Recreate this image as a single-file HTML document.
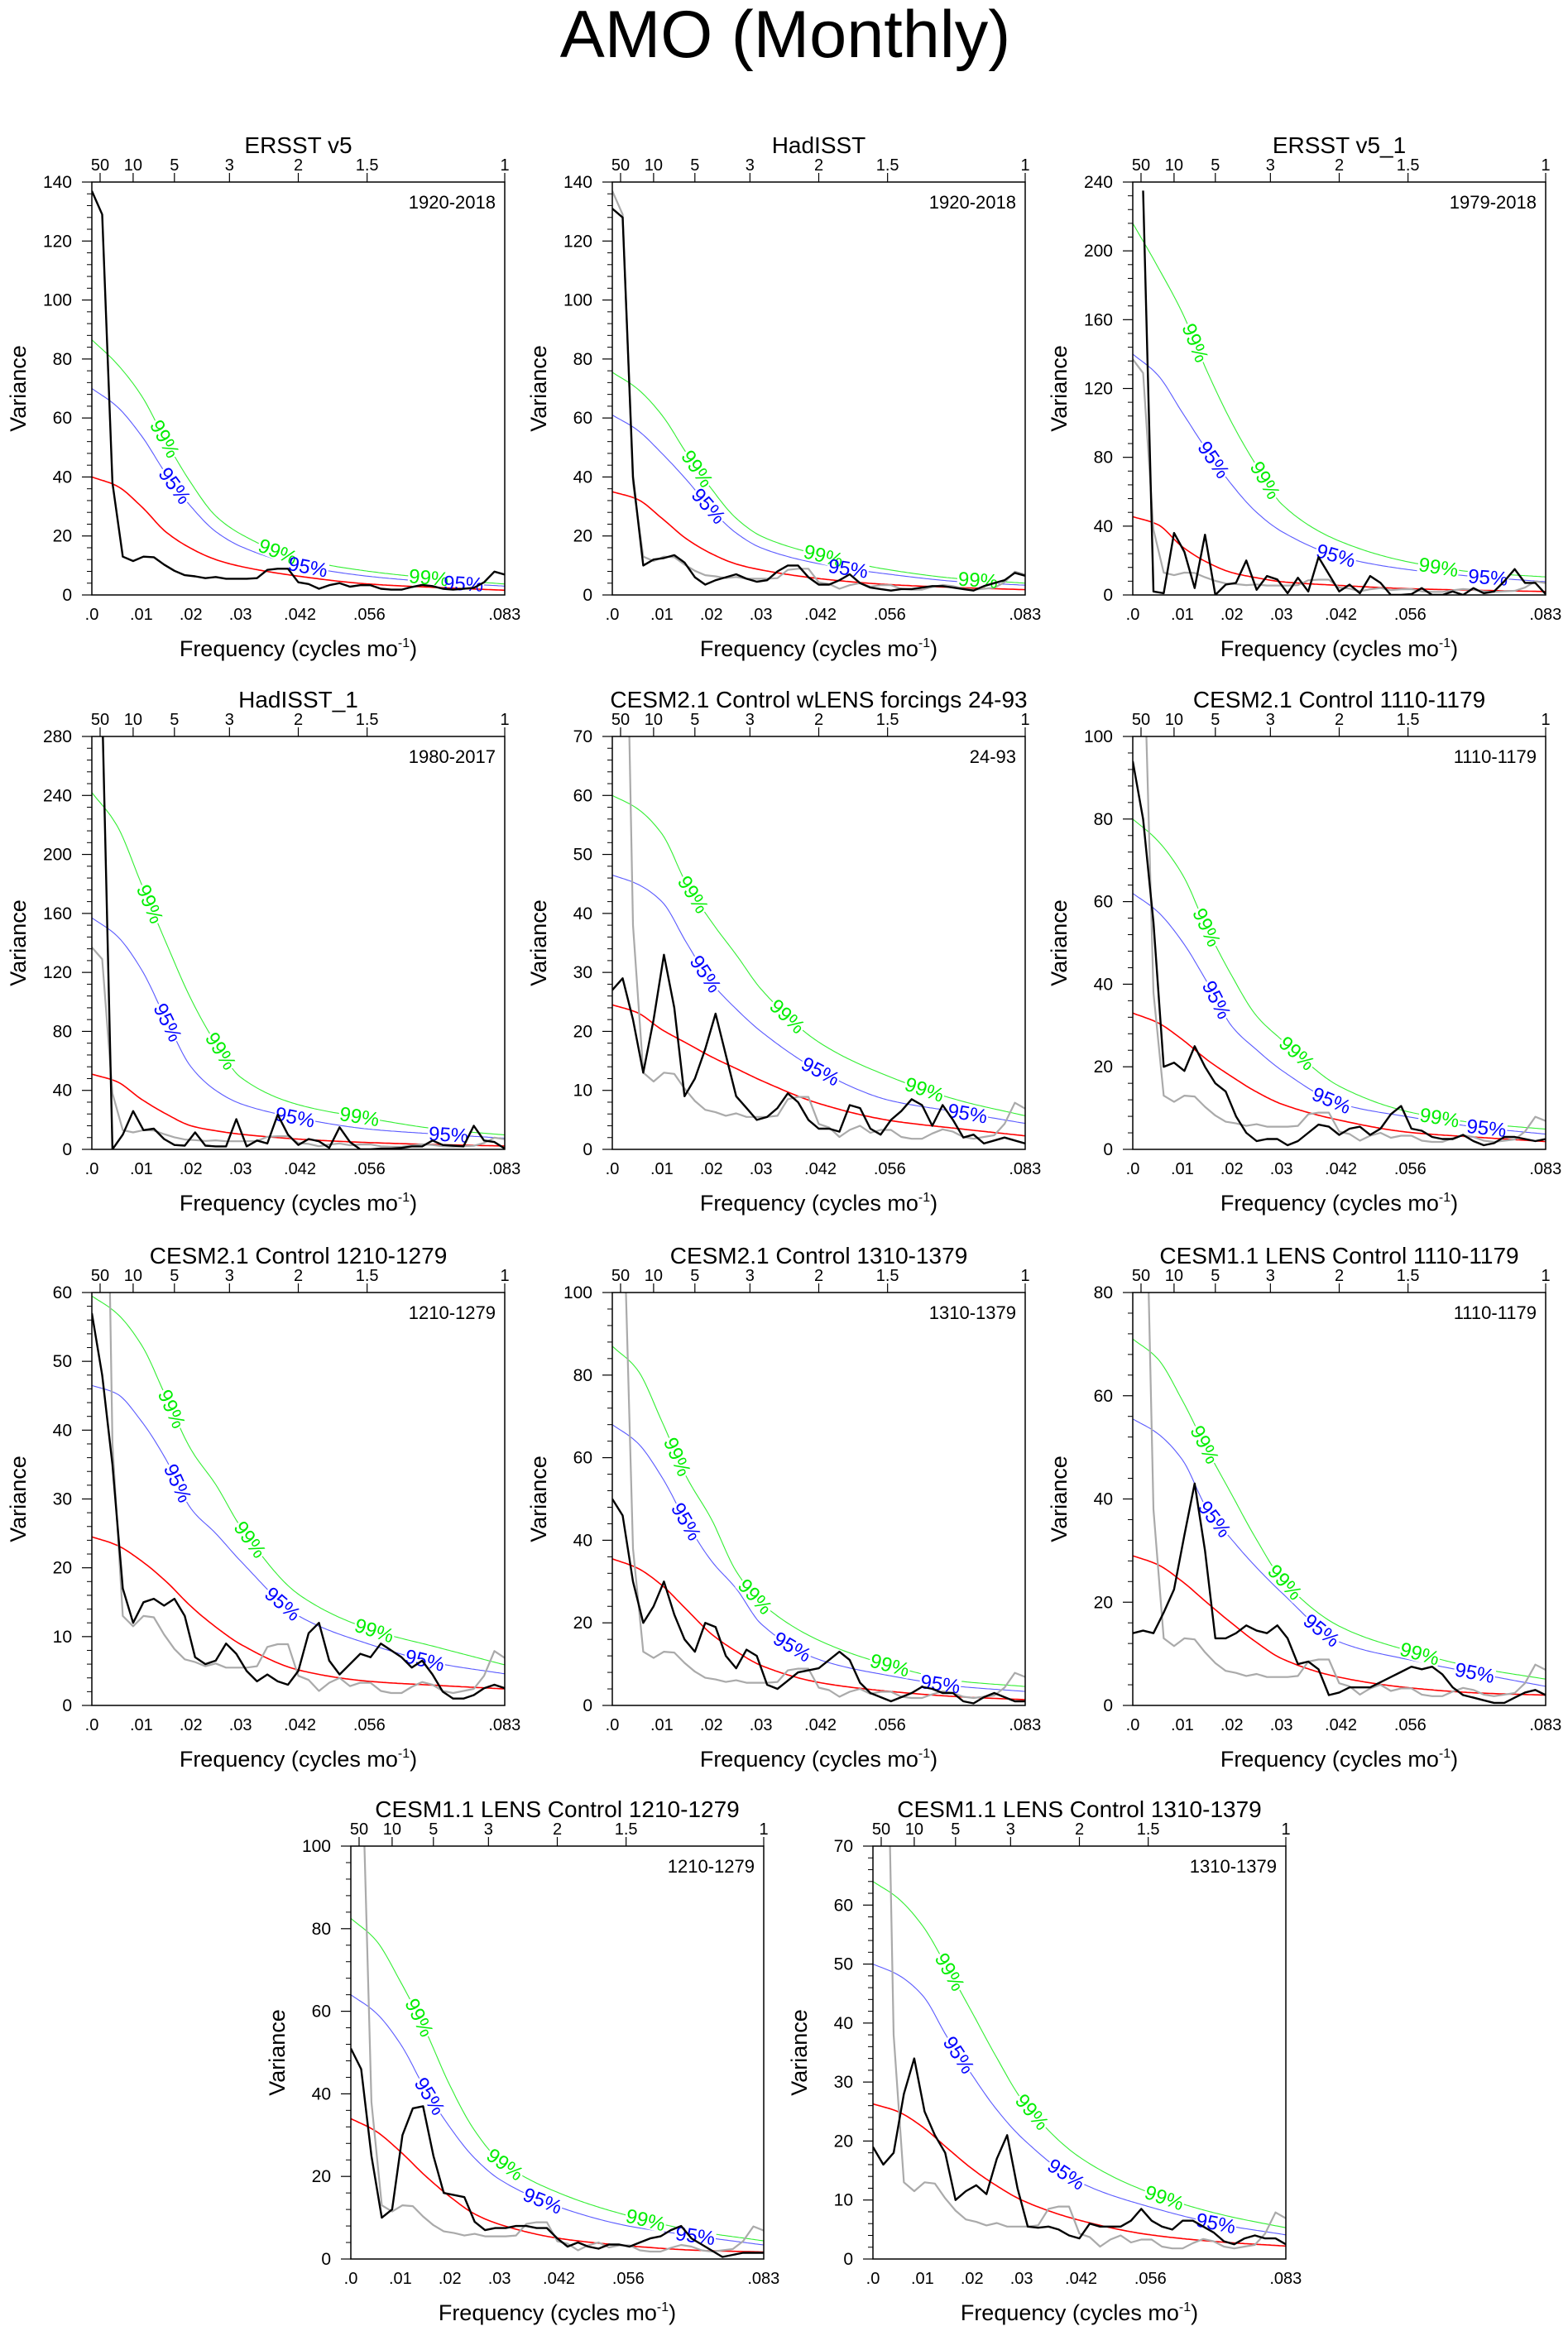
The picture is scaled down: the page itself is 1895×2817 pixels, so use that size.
<!DOCTYPE html>
<html><head><meta charset="utf-8"><title>AMO (Monthly)</title>
<style>
html,body{margin:0;padding:0;background:#fff;}
svg{display:block;font-family:"Liberation Sans",Arial,sans-serif;}
</style></head>
<body>
<svg id="chart" xmlns="http://www.w3.org/2000/svg" width="1895" height="2817" viewBox="0 0 1895 2817">
<rect x="0" y="0" width="1895" height="2817" fill="#fff"/>
<text x="949" y="69" font-size="81" text-anchor="middle" fill="#000">AMO (Monthly)</text>
</svg>
<script>
// ---- data ----
const curveFreqs = [0,.005,.01,.015,.02,.025,.03,.042,.056,.07,.0833];
const xTickVals = [0,.01,.02,.03,.042,.056,.0833];
const xTickLabels = [".0",".01",".02",".03",".042",".056",".083"];
const periodVals = [50,10,5,3,2,1.5,1];
const periodLabels = ["50","10","5","3","2","1.5","1"];

const p1Black = [137,129,38,13,11.5,13,12.8,10.3,8.2,6.7,6.3,5.7,6.1,5.5,5.5,5.5,5.7,8.5,8.9,8.9,4.3,3.7,2.1,3.3,4,2.8,3.3,3.3,2.1,1.8,1.8,2.7,3.4,3,2.1,1.8,2.1,2.4,4.3,7.9,6.9];
const p2Black = [131,128,40,10,12,12.5,13.5,11,6,3.5,5,6,7,5.5,4.5,5,8,10,10,6,3.5,3.5,5,7,4,2.5,2,1.5,2,2,2.5,3,3,2.5,2,1.5,3,4,5,7.5,6.5];
const p3Black = [null,235,2,1,36,25,4,35,0,6,7,20,3,11,9,1,10,2,22,12,2,6,1,11,7,0,0,0.5,4,0,0,2,0,4,1,2,8,15,7,7,0.5];
const p4Black = [null,300,0,10,26,13,14,7,3,2.5,11.5,2.5,2,2,20.5,2,6,4,23.5,10,3,7,5.5,1,15,5,0,0,0.5,0.5,1,2,2,6,3,2.5,2,16,6,5,0.5];
const p5Black = [27,29,22,13,22,33,24,9,12,17,23,16,9,7,5,5.5,7,9.5,8,5,3.5,3.5,3,7.5,7,3.5,2.5,5,6.5,8.5,7.5,4,7.5,5,2,2.5,1,1.5,2,1.5,1];
const p6Black = [94,80,55,20,21,19,25,20,16,14,8,4,2,2.5,2.5,1,2,4,6,5.5,3.5,5,5.5,3.5,5,8.5,10.5,5,4.5,3,2.5,2.5,3.5,2,1,1.5,3,3,2.5,2,2.5];
const p7Black = [57,48,35,17,12,15,15.5,14.5,15.5,13,7,6,6.5,9,7.5,5,3.5,4.5,3.5,3,5,10.5,12,6.5,4.5,6,7.5,7,9,8,7,5.5,6.5,4.5,2,1,1,1.5,2.5,3,2.5];
const p8Black = [50,46,30,20,24,30,22,16,13,20,19,12,9,13.5,12,5,4,6,8,8.5,9,11,13,11,5.5,3,2,1,2,3,4.5,4,3,3,1,0.5,2,3,2,1,1];
const p9Black = [14,14.5,14,18,22.5,33,43,30,13,13,14,15.5,14.5,14,15.5,13,8,8.5,7,2,2.5,3.5,3.5,3.5,4.5,5.5,6.5,7.5,7,7.5,6,3.5,2,1.5,1,0.5,0.5,1.5,2.5,3,2];
const p10Black = [51,46,25,10,12,30,36.5,37,25,16,15.5,15,9,7,7.5,7.5,8,8,7.5,7.5,5,3,4,3,2.5,3.5,3.5,3,4,5,5.5,7,8,5,3.5,2,0.5,1,1.5,1.5,1.5];
const p11Black = [19,16,18,28,34,25,21,18,10,11.5,12.5,11,17,21,12,5.5,5.3,5.5,5,4,3.5,6,5.5,5.5,5.5,6.5,8.5,6.5,5.5,5,6.5,6.5,5.5,4.5,3,2.5,3.5,4,3.5,3.5,2.5];
const greyRef = p1Black;

const p1Red = [40,37,30,21.3,15.8,12,9.7,6.3,3.7,2.5,1.6];
const p1C95 = [70,64,54,41,30,21.5,16.5,10,6.3,4.3,3];
const p1C99 = [86.5,78.5,67.6,52,38,26.8,20.7,12.2,8,5.5,3.7];
const p2Red = [35,32.5,26,19,14,10.5,8.5,5.5,3.5,2.5,1.8];
const p2C95 = [61,56,48,39,29,21,16,10.5,7,4.5,3.3];
const p2C99 = [75.5,70,61,48,36,26,20,13.5,8.5,5.5,4];
const p3Red = [45.5,41,28,19,13,10,7.7,5.5,3.6,2.7,2];
const p3C95 = [140,128,106,84,64,48,37,22,14.6,10.5,7.7];
const p3C99 = [216,191,164,130,100,75,53,31,19,13,10.5];
const p4Red = [51,46,34,24,16,12.6,10.3,6.9,4.6,3.2,2.3];
const p4C95 = [157,145,122,88,56,40,31,21,13.7,10.3,7.6];
const p4C99 = [242,220,180,140,102,72,49,30,21,13.7,9.8];
const p5Red = [24.5,23.2,20.3,18,15.7,13.7,11.7,7.7,4.9,3.5,2.3];
const p5C95 = [46.5,45,42,35,28.3,23.8,20,13.2,8.3,6.3,4.4];
const p5C99 = [60,57.8,53.5,45,38.6,33,27.2,18,12.3,8.3,5.7];
const p6Red = [33,30.7,26.6,21.7,17.6,13.9,11,7,4.1,2.9,1.9];
const p6C95 = [62,57.6,50.3,40.5,29.8,24.1,19.2,11,7.8,5.3,3.7];
const p6C99 = [80,74.8,66.6,53.5,42,32.3,26.6,15.1,9,6.3,4.9];
const p7Red = [24.5,23.3,21,18,14.4,11.4,8.9,5.1,3.5,2.9,2.4];
const p7C95 = [46.5,45.3,41.3,35.7,28.6,25,21,12.9,8.9,6.1,4.6];
const p7C99 = [59.5,57,52.4,44.8,37.2,32.1,26,16,11.1,8.4,5.9];
const p8Red = [35.5,33.3,29.1,23.2,17.3,13.1,9.7,5.5,3.4,2.1,1.4];
const p8C95 = [68,63.7,55.3,44.3,35,28.3,19.8,11,7.2,4.6,3.4];
const p8C99 = [87,81.4,68.8,55.3,45.1,32.5,24.9,15.6,9.7,5.9,4.6];
const p9Red = [29,27.3,24,19.9,15.9,12.2,9.1,5.4,3.4,2.4,2];
const p9C95 = [55.5,52.7,47.6,38.1,32.1,26.7,21.9,12.2,8.8,6.1,3.7];
const p9C99 = [71,67.2,59.1,49.6,40.8,32.1,24.6,15.2,10.5,7.2,5.1];
const p10Red = [34,31,26,20.2,15.1,10.9,8.4,5,3.2,2.1,1.7];
const p10C95 = [64,59.7,52.1,41.2,31.9,24.4,19.3,12.6,8,5.5,3.4];
const p10C99 = [82.5,77.3,67.2,55.5,42,31.1,23.9,16,10.5,6.7,4.4];
const p11Red = [26.3,25,22.4,18.8,15.3,12.4,10,6.5,4.1,2.9,2.2];
const p11C95 = [50,48.2,44.7,37.6,31.2,25.3,20.6,12.9,8.8,5.9,4.1];
const p11C99 = [64,61.2,56.5,49.4,41.8,34.1,27.1,17.1,11.2,7.6,5.3];

const panelTitles = ["ERSST v5","HadISST","ERSST v5_1","HadISST_1","CESM2.1 Control wLENS forcings 24-93","CESM2.1 Control 1110-1179","CESM2.1 Control 1210-1279","CESM2.1 Control 1310-1379","CESM1.1 LENS Control 1110-1179","CESM1.1 LENS Control 1210-1279","CESM1.1 LENS Control 1310-1379"];
const panelYears = ["1920-2018","1920-2018","1979-2018","1980-2017","24-93","1110-1179","1210-1279","1310-1379","1110-1179","1210-1279","1310-1379"];
const panelYMax = [140,140,240,280,70,100,60,100,80,100,70];
const panelYStep = [20,20,40,40,10,20,10,20,20,20,10];
const panelBlack = [p1Black,p2Black,p3Black,p4Black,p5Black,p6Black,p7Black,p8Black,p9Black,p10Black,p11Black];
const panelRed = [p1Red,p2Red,p3Red,p4Red,p5Red,p6Red,p7Red,p8Red,p9Red,p10Red,p11Red];
const panelC95 = [p1C95,p2C95,p3C95,p4C95,p5C95,p6C95,p7C95,p8C95,p9C95,p10C95,p11C95];
const panelC99 = [p1C99,p2C99,p3C99,p4C99,p5C99,p6C99,p7C99,p8C99,p9C99,p10C99,p11C99];
const label99Freqs = [[.0147,.0375,.068],[.0171,.0426,.0738],[.0126,.0267,.0617],[.0117,.026,.054],[.0163,.0353,.063],[.0149,.0331,.0619],[.0161,.0319,.057],[.0131,.0288,.056],[.0145,.0307,.0579],[.0138,.0311,.0595],[.0155,.0321,.0588]];
const label95Freqs = [[.0167,.0436,.075],[.0194,.0476],[.0163,.041,.0717],[.0153,.041,.072],[.0188,.042,.0717],[.0169,.0401,.0714],[.0173,.0385,.0672],[.0149,.0363,.0662],[.0165,.0381,.069],[.0159,.0387,.0695],[.0173,.039,.0692]];

// ---- layout (not data) ----
const panelPos = [[111,220],[740,220],[1369,220],[111,890],[740,890],[1369,890],[111,1562],[740,1562],[1369,1562],[424,2231],[1055,2231]];
const PW = 499, PH = 499, FMAX = 1/12, NGRID = 40;

const NS = 'http://www.w3.org/2000/svg';
const svg = document.getElementById('chart');
function mk(tag, attrs, parent){
  const e = document.createElementNS(NS, tag);
  for (const k in attrs) e.setAttribute(k, attrs[k]);
  (parent || svg).appendChild(e);
  return e;
}
// monotone cubic (Fritsch-Carlson) interpolation
function monoInterp(X, Y){
  const n = X.length, d = [], m = new Array(n);
  for (let i = 0; i < n-1; i++) d.push((Y[i+1]-Y[i])/(X[i+1]-X[i]));
  m[0] = d[0]; m[n-1] = d[n-2];
  for (let i = 1; i < n-1; i++){
    if (d[i-1]*d[i] <= 0) m[i] = 0;
    else { const h0 = X[i]-X[i-1], h1 = X[i+1]-X[i]; const w1 = 2*h1+h0, w2 = h1+2*h0; m[i] = (w1+w2)/(w1/d[i-1]+w2/d[i]); }
  }
  return function(x){
    if (x <= X[0]) return Y[0];
    if (x >= X[n-1]) return Y[n-1];
    let i = 0; while (x > X[i+1]) i++;
    const h = X[i+1]-X[i], t = (x-X[i])/h;
    const h00 = 2*t*t*t-3*t*t+1, h10 = t*t*t-2*t*t+t, h01 = -2*t*t*t+3*t*t, h11 = t*t*t-t*t;
    return h00*Y[i]+h10*h*m[i]+h01*Y[i+1]+h11*h*m[i+1];
  };
}

const defs = mk('defs', {});



panelTitles.forEach((title, p) => {
  const L = panelPos[p][0], T = panelPos[p][1];
  const ymax = panelYMax[p], ystep = panelYStep[p];
  const xs = f => L + f / FMAX * PW;
  const ys = v => T + PH - v / ymax * PH;

  const g = mk('g', {});
  
  

  const cp = mk('clipPath', {id: 'clip' + p}, defs);
  
  
  const cr = mk('rect', {x: L, y: T, width: PW, height: PH}, cp);
  
  

  const tt = mk('text', {x: L + PW/2, y: T - 35, 'font-size': 28, 'text-anchor': 'middle'}, g);
  tt.textContent = title;
  
  
  const yr = mk('text', {x: L + PW - 11, y: T + 32, 'font-size': 22, 'text-anchor': 'end'}, g);
  yr.textContent = panelYears[p];
  
  

  for (let v = 0; v <= ymax + 1e-9; v += ystep){
    const tk = mk('line', {x1: L - 12, x2: L, y1: ys(v), y2: ys(v), stroke: '#000', 'stroke-width': 1.2}, g);
    
    
    const lb = mk('text', {x: L - 24, y: ys(v) + 7, 'font-size': 21, 'text-anchor': 'end'}, g);
    lb.textContent = String(v);
    
    
    if (v < ymax - 1e-9){
      for (let m = 1; m < 5; m++){
        const mv = v + m * ystep / 5;
        const mt = mk('line', {x1: L - 6, x2: L, y1: ys(mv), y2: ys(mv), stroke: '#000', 'stroke-width': 1}, g);
        
        
      }
    }
  }
  periodVals.forEach((P, i) => {
    const f = 1 / (12 * P);
    const tk = mk('line', {x1: xs(f), x2: xs(f), y1: T - 11, y2: T, stroke: '#000', 'stroke-width': 1.2}, g);
    
    
    const lb = mk('text', {x: xs(f), y: T - 14, 'font-size': 20, 'text-anchor': 'middle'}, g);
    lb.textContent = periodLabels[i];
    
    
  });
  xTickVals.forEach((f, i) => {
    const lb = mk('text', {x: xs(f), y: T + PH + 30, 'font-size': 20, 'text-anchor': 'middle'}, g);
    lb.textContent = xTickLabels[i];
    
    
  });
  const xt = mk('text', {x: L + PW/2, y: T + PH + 74, 'font-size': 27, 'text-anchor': 'middle'}, g);
  xt.innerHTML = 'Frequency (cycles mo<tspan dy="-11" font-size="16">-1</tspan><tspan dy="11">)</tspan>';
  
  
  const yt = mk('text', {x: 0, y: 0, 'font-size': 27, 'text-anchor': 'middle', transform: 'translate(' + (L - 80) + ',' + (T + PH/2) + ') rotate(-90)'}, g);
  yt.textContent = 'Variance';
  
  

  const dg = mk('g', {'clip-path': 'url(#clip' + p + ')'}, g);
  
  

  // label placement info + gap mask
  const f99 = monoInterp(curveFreqs, panelC99[p]);
  const f95 = monoInterp(curveFreqs, panelC95[p]);
  const fRed = monoInterp(curveFreqs, panelRed[p]);
  const labelInfo = [];
  function collect(freqs, fn, txt, color, name){
    freqs.forEach(f => {
      const x1 = xs(f - .0008), y1 = ys(fn(f - .0008));
      const x2 = xs(f + .0008), y2 = ys(fn(f + .0008));
      const ang = Math.atan2(y2 - y1, x2 - x1) * 180 / Math.PI;
      labelInfo.push({cx: xs(f), cy: ys(fn(f)), ang: ang, txt: txt, color: color, name: name});
    });
  }
  collect(label99Freqs[p], f99, '99%', '#00ee00', 'sig99-label');
  collect(label95Freqs[p], f95, '95%', '#0000ff', 'sig95-label');

  const mask = mk('mask', {id: 'gap' + p, maskUnits: 'userSpaceOnUse', x: 0, y: 0, width: 1895, height: 2817}, defs);
  
  
  const mr = mk('rect', {x: 0, y: 0, width: 1895, height: 2817, fill: '#fff'}, mask);
  
  
  labelInfo.forEach(li => {
    const hr = mk('rect', {x: -25, y: -10, width: 50, height: 20, fill: '#000', transform: 'translate(' + li.cx.toFixed(1) + ',' + li.cy.toFixed(1) + ') rotate(' + li.ang.toFixed(1) + ')'}, mask);
    
    
  });

  const curveSet = [[f99, '#33ee33', 1.1, 'sig99-curve', true], [f95, '#5a5aff', 1.1, 'sig95-curve', true], [fRed, '#ff0000', 1.6, 'red-noise-curve', false]];
  curveSet.forEach(cs => {
    let d = '';
    for (let k = 0; k <= 200; k++){
      const f = FMAX * k / 200;
      d += (k ? ' L' : 'M') + xs(f).toFixed(1) + ',' + ys(cs[0](f)).toFixed(1);
    }
    const attrs = {d: d, fill: 'none', stroke: cs[1], 'stroke-width': cs[2]};
    if (cs[4]) attrs.mask = 'url(#gap' + p + ')';
    const path = mk('path', attrs, dg);
    
    
  });

  function seriesPath(arr){
    let d = '', pen = false;
    arr.forEach((v, i) => {
      if (v === null){ pen = false; return; }
      const x = xs(i * FMAX / NGRID), y = ys(v);
      d += (pen ? ' L' : ' M') + x.toFixed(1) + ',' + y.toFixed(1);
      pen = true;
    });
    return d;
  }
  if (p > 0){
    const gr = mk('path', {d: seriesPath(greyRef), fill: 'none', stroke: '#aaaaaa', 'stroke-width': 2.2, 'stroke-linejoin': 'round'}, dg);
    
    
  }

  labelInfo.forEach(li => {
    const lb = mk('text', {x: 0, y: 8, 'font-size': 24, 'text-anchor': 'middle', fill: li.color, transform: 'translate(' + li.cx.toFixed(1) + ',' + li.cy.toFixed(1) + ') rotate(' + li.ang.toFixed(1) + ')'}, dg);
    lb.textContent = li.txt;
    
    
  });

  const bl = mk('path', {d: seriesPath(panelBlack[p]), fill: 'none', stroke: '#000', 'stroke-width': 2.4, 'stroke-linejoin': 'round'}, dg);
  
  

  const frame = mk('rect', {x: L, y: T, width: PW, height: PH, fill: 'none', stroke: '#000', 'stroke-width': 1.5}, g);
  
  
});
</script>
</body></html>
